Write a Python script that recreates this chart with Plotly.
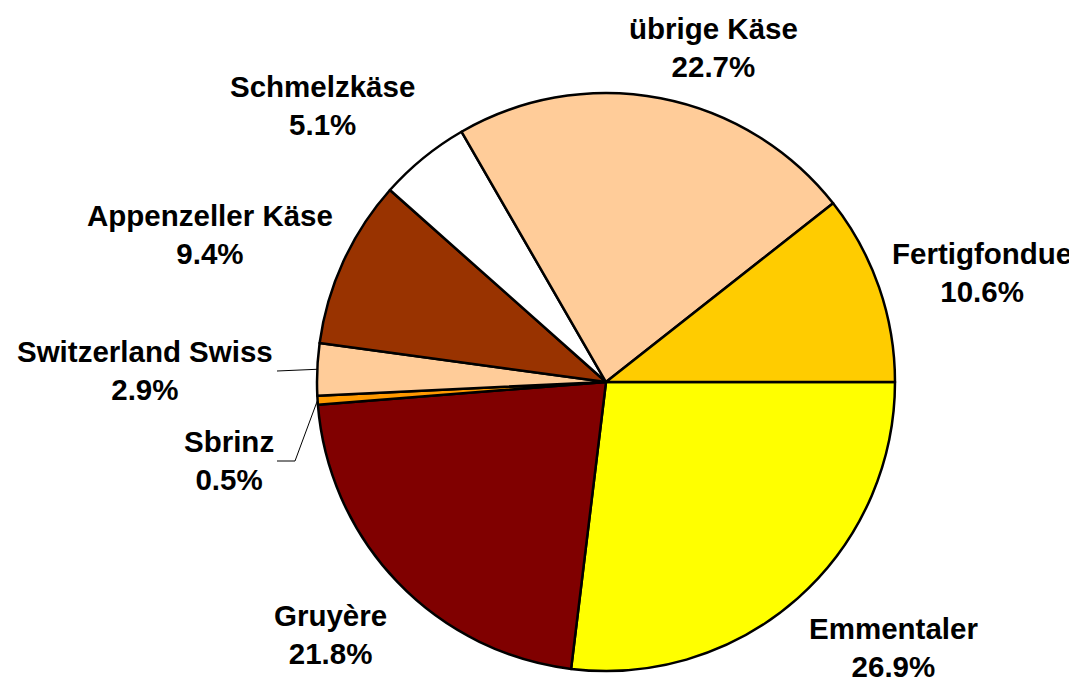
import math
import plotly.graph_objects as go

# ---- data ----
categories = ["Emmentaler", "Gruyère", "Sbrinz", "Switzerland Swiss",
              "Appenzeller Käse", "Schmelzkäse", "übrige Käse", "Fertigfondue"]
shares = [26.9, 21.8, 0.5, 2.9, 9.4, 5.1, 22.7, 10.6]
colors = ["#FFFF00", "#800000", "#FF9900", "#FFCC99",
          "#993300", "#FFFFFF", "#FFCC99", "#FFCC00"]

# ---- layout geometry (page pixels) ----
W, H = 1077, 681
OFF = 8            # default body margin of the html page
CX, CY, R = 606, 382, 289

# centre of each two-line label block (page pixels)
label_pos = {
    "Emmentaler": (893, 647),
    "Gruyère": (330, 634),
    "Sbrinz": (229, 460),
    "Switzerland Swiss": (145, 370),
    "Appenzeller Käse": (210, 235),
    "Schmelzkäse": (322, 105),
    "übrige Käse": (713, 47),
    "Fertigfondue": (982, 272),
}

def px(x):
    return (x - OFF) / W

def py(y):
    return 1 - (y - OFF) / H

fig = go.Figure(go.Pie(
    labels=categories,
    values=shares,
    sort=False,
    direction="clockwise",
    rotation=90,
    marker=dict(colors=colors, line=dict(color="black", width=2.5)),
    textinfo="none",
    hoverinfo="label+percent",
    showlegend=False,
    domain=dict(x=[px(CX - R), px(CX + R)], y=[py(CY + R), py(CY - R)]),
))

font = dict(family="Liberation Sans, Arial, sans-serif", size=29.5, color="black")
annotations = []
for name, val in zip(categories, shares):
    x, y = label_pos[name]
    annotations.append(dict(
        x=px(x), y=py(y), xref="paper", yref="paper",
        text=f"<b>{name}</b><br><b>{val:.1f}%</b>",
        showarrow=False, font=font, xanchor="center", yanchor="middle",
        align="center",
    ))

# leader lines to the small slices, ending at the slice mid-angle on the rim
total = sum(shares)
cum = 0
mid = {}
for name, val in zip(categories, shares):
    mid[name] = (cum + val / 2) / total * 360
    cum += val

def rim(name):
    a = math.radians(mid[name])
    return CX + R * math.cos(a), CY + R * math.sin(a)

shapes = []
ex, ey = rim("Switzerland Swiss")
shapes.append(dict(type="line", xref="paper", yref="paper",
                   x0=px(277), y0=py(371), x1=px(ex), y1=py(ey),
                   line=dict(color="black", width=1)))
ex, ey = rim("Sbrinz")
shapes.append(dict(type="path", xref="paper", yref="paper",
                   path=f"M {px(277)} {py(461)} L {px(295)} {py(461)} L {px(ex)} {py(ey)}",
                   line=dict(color="black", width=1)))

fig.update_layout(
    width=W, height=H,
    margin=dict(l=0, r=0, t=0, b=0),
    paper_bgcolor="white", plot_bgcolor="white",
    annotations=annotations,
    shapes=shapes,
)

fig.write_html("out.html")
